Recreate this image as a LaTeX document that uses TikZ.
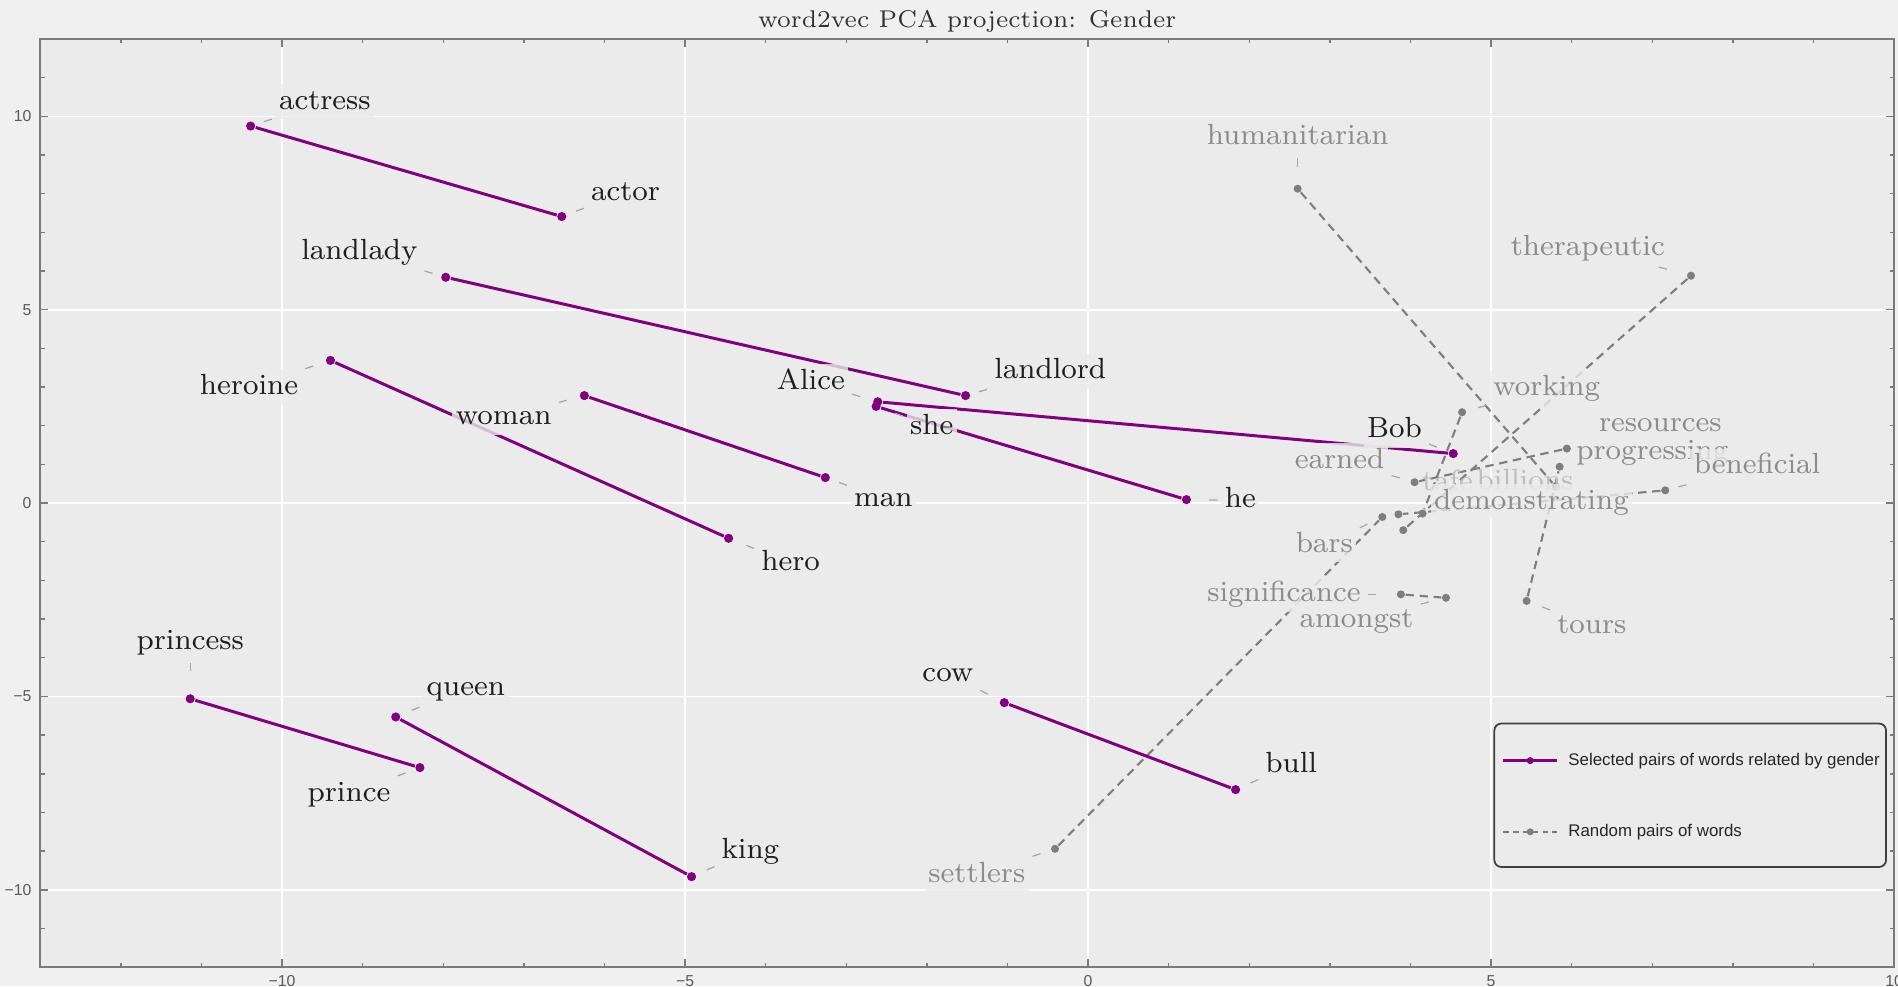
\documentclass[tikz,border=0pt]{standalone}
\usepackage{fontspec}
\newfontfamily\axisfont{Liberation Sans}
\usetikzlibrary{calc}

\definecolor{pagebg}{HTML}{F0F0F0}
\definecolor{plotbg}{HTML}{EBEBEB}
\definecolor{wpurple}{HTML}{800080}
\definecolor{wgray}{HTML}{7E7E7E}
\definecolor{wgraytext}{HTML}{8C8C8C}
\definecolor{fadedtext}{HTML}{BCBCBC}
\definecolor{framegray}{HTML}{7A7A7A}
\definecolor{leadgray}{HTML}{A6A6A6}

\newcommand{\wordfont}{\fontsize{8.3}{10}\selectfont}
\newcommand{\titlefont}{\fontsize{6.9}{8.5}\selectfont}
\newcommand{\tickfont}{\fontsize{4.5}{5}\selectfont\axisfont}
\newcommand{\legendfont}{\fontsize{4.8}{5.8}\selectfont\axisfont}

\tikzset{
  gridline/.style={draw=white, line width=0.5pt},
  plotframe/.style={draw=framegray, line width=0.6pt},
  tickmark/.style={draw=framegray, line width=0.4pt},
  ticklabel/.style={font=\tickfont, text=black!65, inner sep=0.5pt},
  pdot/.style={circle, fill=wpurple, inner sep=0pt, minimum size=2.6pt},
  gdot/.style={circle, fill=wgray, inner sep=0pt, minimum size=2.3pt},
  pline/.style={draw=wpurple, line width=0.85pt},
  gline/.style={draw=wgray, line width=0.6pt, dash pattern=on 2.4pt off 1.6pt},
  word/.style={font=\wordfont, text=black!88, fill=plotbg, fill opacity=0.8,
    text opacity=1, inner xsep=1pt, inner ysep=2pt, text height=1.2ex, text depth=0.2ex},
  rword/.style={word, text=wgraytext},
  fword/.style={word, text=fadedtext, fill opacity=0},
  leader/.style={draw=leadgray, line width=0.35pt,
    dash pattern=on 0pt off 0.9pt on 2.4pt off 1000pt},
  legendbox/.style={draw=black!75, line width=0.5pt, rounded corners=2pt},
  legendtext/.style={font=\legendfont, text=black!85, anchor=west, inner sep=0pt}
}

\begin{document}
\begin{tikzpicture}[x=0.806cm, y=0.3867cm]
\useasboundingbox[fill=pagebg] (-13.5,-12.488) rectangle (10.048,13.01);

% plot area
\fill[plotbg] (-13,-12) rectangle (10,12);
\foreach \gx in {-10,-5,0,5} \draw[gridline] (\gx,-12) -- (\gx,12);
\foreach \gy in {-10,-5,0,5,10} \draw[gridline] (-13,\gy) -- (10,\gy);
\draw[plotframe] (-13,-12) rectangle (10,12);

% ticks on all four sides
\foreach \tx in {-12,...,9} {
  \draw[tickmark] (\tx,-12) -- ++(0,1.2pt);
  \draw[tickmark] (\tx,12) -- ++(0,-1.2pt);
}
\foreach \tx in {-10,-5,0,5} {
  \draw[tickmark] (\tx,-12) -- ++(0,2.2pt);
  \draw[tickmark] (\tx,12) -- ++(0,-2.2pt);
}
\foreach \ty in {-11,...,11} {
  \draw[tickmark] (-13,\ty) -- ++(1.2pt,0);
  \draw[tickmark] (10,\ty) -- ++(-1.2pt,0);
}
\foreach \ty in {-10,-5,0,5,10} {
  \draw[tickmark] (-13,\ty) -- ++(2.2pt,0);
  \draw[tickmark] (10,\ty) -- ++(-2.2pt,0);
}

% axis numbers
\foreach \tx/\tl in {-10/−10,-5/−5,0/0,5/5,10/10}
  \node[ticklabel] at (\tx,-12.36) {\tl};
\foreach \ty/\tl in {10/10,5/5,0/0,-5/−5,-10/−10}
  \node[ticklabel, anchor=east] at (-13.08,\ty) {\tl};

% title
\node[font=\titlefont, text=black!80, inner sep=0pt] (title) at (-1.50,12.47)
  {word2vec PCA projection: Gender};

% ---------- gendered word pairs ----------
\node[pdot] (p-actress)  at (-10.39,9.75) {};
\node[pdot] (p-actor)    at (-6.53,7.41) {};
\node[pdot] (p-landlady) at (-7.97,5.84) {};
\node[pdot] (p-landlord) at (-1.52,2.78) {};
\node[pdot] (p-heroine)  at (-9.40,3.69) {};
\node[pdot] (p-hero)     at (-4.46,-0.91) {};
\node[pdot] (p-woman)    at (-6.25,2.78) {};
\node[pdot] (p-man)      at (-3.26,0.66) {};
\node[pdot] (p-alice)    at (-2.61,2.62) {};
\node[pdot] (p-bob)      at (4.53,1.28) {};
\node[pdot] (p-she)      at (-2.63,2.50) {};
\node[pdot] (p-he)       at (1.22,0.09) {};
\node[pdot] (p-princess) at (-11.14,-5.06) {};
\node[pdot] (p-prince)   at (-8.29,-6.84) {};
\node[pdot] (p-queen)    at (-8.59,-5.53) {};
\node[pdot] (p-king)     at (-4.92,-9.66) {};
\node[pdot] (p-cow)      at (-1.04,-5.16) {};
\node[pdot] (p-bull)     at (1.83,-7.41) {};

% ---------- random word pairs ----------
\node[gdot] (g-hum)   at (2.60,8.13) {};
\node[gdot] (g-bill)  at (5.80,0.43) {};
\node[gdot] (g-ther)  at (7.48,5.88) {};
\node[gdot] (g-h)     at (3.91,-0.70) {};
\node[gdot] (g-set)   at (-0.41,-8.94) {};
\node[gdot] (g-bars)  at (3.65,-0.36) {};
\node[gdot] (g-work)  at (4.64,2.35) {};
\node[gdot] (g-dem)   at (4.15,-0.27) {};
\node[gdot] (g-prog)  at (5.94,1.41) {};
\node[gdot] (g-earn)  at (4.05,0.54) {};
\node[gdot] (g-ben)   at (7.16,0.33) {};
\node[gdot] (g-tafe)  at (3.85,-0.29) {};
\node[gdot] (g-tours) at (5.44,-2.53) {};
\node[gdot] (g-res)   at (5.85,0.94) {};
\node[gdot] (g-sig)   at (3.88,-2.36) {};
\node[gdot] (g-among) at (4.44,-2.45) {};

\draw[gline] (g-hum) -- (g-bill);
\draw[gline] (g-ther) -- (g-h);
\draw[gline] (g-set) -- (g-bars);
\draw[gline] (g-work) -- (g-dem);
\draw[gline] (g-prog) -- (g-earn);
\draw[gline] (g-ben) -- (g-tafe);
\draw[gline] (g-tours) -- (g-res);
\draw[gline] (g-sig) -- (g-among);

\draw[pline] (p-actress) -- (p-actor);
\draw[pline] (p-landlady) -- (p-landlord);
\draw[pline] (p-heroine) -- (p-hero);
\draw[pline] (p-woman) -- (p-man);
\draw[pline] (p-alice) -- (p-bob);
\draw[pline] (p-she) -- (p-he);
\draw[pline] (p-princess) -- (p-prince);
\draw[pline] (p-queen) -- (p-king);
\draw[pline] (p-cow) -- (p-bull);

% ---------- word labels with callout ticks ----------
\foreach \lname/\lpos/\ltext/\ldot in {
  actress/{-9.47,10.38}/actress/actress,
  actor/{-5.74,8.03}/actor/actor,
  landlady/{-9.04,6.50}/landlady/landlady,
  landlord/{-0.47,3.41}/landlord/landlord,
  heroine/{-10.41,3.00}/heroine/heroine,
  woman/{-7.25,2.22}/woman/woman,
  man/{-2.54,0.12}/man/man,
  hero/{-3.69,-1.55}/hero/hero,
  alice/{-3.44,3.13}/Alice/alice,
  she/{-1.94,1.98}/she/she,
  he/{1.89,0.07}/he/he,
  bob/{3.80,1.88}/Bob/bob,
  princess/{-11.14,-3.58}/princess/princess,
  queen/{-7.72,-4.78}/queen/queen,
  prince/{-9.17,-7.52}/prince/prince,
  king/{-4.19,-8.99}/king/king,
  cow/{-1.74,-4.41}/cow/cow,
  bull/{2.52,-6.77}/bull/bull}
{
  \node[word] (w-\lname) at (\lpos) {\ltext};
  \draw[leader] (w-\lname) -- (p-\ldot);
}

\foreach \lname/\lpos/\ltext/\ldot in {
  humanitarian/{2.60,9.47}/humanitarian/hum,
  therapeutic/{6.20,6.60}/therapeutic/ther,
  working/{5.69,2.97}/working/work,
  resources/{7.10,2.04}/resources/res,
  earned/{3.12,1.10}/earned/earn,
  bars/{2.93,-1.08}/bars/bars,
  significance/{2.43,-2.36}/significance/sig,
  amongst/{3.33,-3.02}/amongst/among,
  tours/{6.25,-3.18}/tours/tours,
  settlers/{-1.38,-9.61}/settlers/set}
{
  \node[rword] (w-\lname) at (\lpos) {\ltext};
  \draw[leader] (w-\lname) -- (g-\ldot);
}

% labels that sit partly behind their neighbours
\node[fword] (w-tafe) at (4.46,0.53) {tafe};
\node[fword] (w-billions) at (5.42,0.56) {billions};
\node[rword] (w-progressing) at (7.00,1.32) {progressing};
\draw[leader] (w-progressing) -- (g-prog);
\node[rword] (w-beneficial) at (8.30,0.95) {beneficial};
\draw[leader] (w-beneficial) -- (g-ben);
\node[rword] (w-demonstrating) at (5.50,0.04) {demonstrating};
\draw[leader] (w-demonstrating) -- (g-dem);

% ---------- legend ----------
\draw[legendbox, fill=plotbg] (5.04,-5.70) rectangle (9.90,-9.41);
\coordinate (lg-a1) at (5.15,-6.66);
\coordinate (lg-a2) at (5.82,-6.66);
\node[pdot, minimum size=2pt] (lg-adot) at (5.485,-6.66) {};
\draw[pline, line width=0.7pt] (lg-a1) -- (lg-a2);
\node[legendtext] (lg-atext) at (5.95,-6.66) {Selected pairs of words related by gender};
\coordinate (lg-b1) at (5.15,-8.50);
\coordinate (lg-b2) at (5.82,-8.50);
\draw[gline, line width=0.5pt, dash pattern=on 1.6pt off 1.2pt] (lg-b1) -- (lg-b2);
\node[gdot, minimum size=2pt] (lg-bdot) at (5.485,-8.50) {};
\node[legendtext] (lg-btext) at (5.95,-8.50) {Random pairs of words};
\end{tikzpicture}
\end{document}
